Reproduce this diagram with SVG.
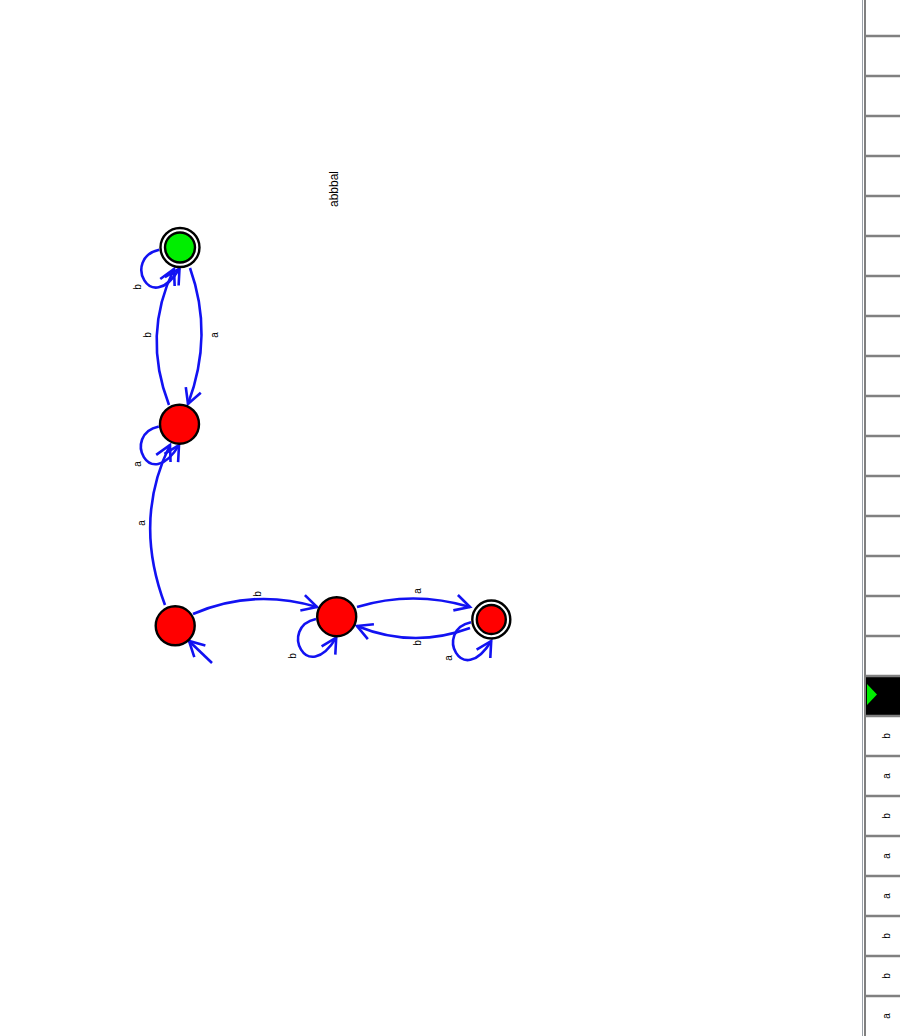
<svg xmlns="http://www.w3.org/2000/svg" width="900" height="1036" viewBox="0 0 900 1036">
<style>
.e{fill:none;stroke:#1212f2;stroke-width:2.6}
.n{fill:#ff0000;stroke:#000;stroke-width:2.4}
.g{fill:#00ee00;stroke:#000;stroke-width:2.4}
.ring{fill:none;stroke:#000;stroke-width:2.4}
.t{font-family:"Liberation Sans",Arial,sans-serif;font-size:10px;fill:#000;text-anchor:middle;dominant-baseline:central}
.tp{stroke:#808080;stroke-width:2.3}
</style>
<defs>
<marker id="arr" markerWidth="20" markerHeight="20" refX="17" refY="10" orient="auto" markerUnits="userSpaceOnUse" viewBox="0 0 20 20">
<path d="M2,2 L17,10 L2,18" fill="none" stroke="#1212f2" stroke-width="2.6"/>
</marker>
</defs>
<rect width="900" height="1036" fill="#fff"/>
<g id="connectors">
<path class="e" d="M190,268 Q214,335 188,404" marker-end="url(#arr)"/>
<path class="e" d="M169,405 Q142,335 174,269" marker-end="url(#arr)"/>
<path class="e" d="M165,605 Q133,520 170,445" marker-end="url(#arr)"/>
<path class="e" d="M193,614 Q253,588 317,607" marker-end="url(#arr)"/>
<path class="e" d="M357,607 Q413,590 470,607" marker-end="url(#arr)"/>
<path class="e" d="M470,628 Q413,649 357,626" marker-end="url(#arr)"/>
<path class="e" d="M212,663 L189,641" marker-end="url(#arr)"/>
<path class="e" d="M159.3,249.8 C122,257.5 150,317.5 179.5,268.5" marker-end="url(#arr)"/>
<path class="e" d="M158.8,426.5 C121.5,434.2 149.5,494.2 179,445.2" marker-end="url(#arr)"/>
<path class="e" d="M316,619 C278.7,626.7 306.7,686.7 336.2,637.7" marker-end="url(#arr)"/>
<path class="e" d="M471,622.3 C433.7,630 461.7,690 491.2,641" marker-end="url(#arr)"/>
<text class="t" transform="translate(214,335) rotate(-90)">a</text>
<text class="t" transform="translate(147,335) rotate(-90)">b</text>
<text class="t" transform="translate(141,523) rotate(-90)">a</text>
<text class="t" transform="translate(257,594) rotate(-90)">b</text>
<text class="t" transform="translate(417,591) rotate(-90)">a</text>
<text class="t" transform="translate(417,643) rotate(-90)">b</text>
<text class="t" transform="translate(137,287) rotate(-90)">b</text>
<text class="t" transform="translate(137,464) rotate(-90)">a</text>
<text class="t" transform="translate(292,656) rotate(-90)">b</text>
<text class="t" transform="translate(448,658) rotate(-90)">a</text>
</g>
<g id="q0">
<circle class="ring" cx="180" cy="247.5" r="19.5"/>
<circle class="g" cx="180" cy="247.5" r="15"/>
</g>
<g id="q1">
<circle class="n" cx="179.5" cy="424.2" r="19.5"/>
</g>
<g id="q2">
<circle class="n" cx="175.2" cy="625.8" r="19.5"/>
</g>
<g id="q3">
<circle class="n" cx="336.7" cy="616.7" r="19.5"/>
</g>
<g id="q4">
<circle class="ring" cx="491.3" cy="619.5" r="19"/>
<circle class="n" cx="491.3" cy="619.5" r="14.5"/>
</g>
<text class="t" style="font-size:12px" transform="translate(334,189) rotate(-90)">abbbal</text>
<g id="tape">
<line x1="862.5" y1="0" x2="862.5" y2="1036" stroke="#9aa0a8" stroke-width="1"/>
<line x1="865" y1="0" x2="865" y2="1036" stroke="#808080" stroke-width="2"/>
<rect x="866" y="677" width="34" height="39" fill="#000"/>
<polygon points="867,684 877,694.5 867,705" fill="#00ee00"/>
<line class="tp" x1="866" y1="36" x2="900" y2="36"/>
<line class="tp" x1="866" y1="76" x2="900" y2="76"/>
<line class="tp" x1="866" y1="116" x2="900" y2="116"/>
<line class="tp" x1="866" y1="156" x2="900" y2="156"/>
<line class="tp" x1="866" y1="196" x2="900" y2="196"/>
<line class="tp" x1="866" y1="236" x2="900" y2="236"/>
<line class="tp" x1="866" y1="276" x2="900" y2="276"/>
<line class="tp" x1="866" y1="316" x2="900" y2="316"/>
<line class="tp" x1="866" y1="356" x2="900" y2="356"/>
<line class="tp" x1="866" y1="396" x2="900" y2="396"/>
<line class="tp" x1="866" y1="436" x2="900" y2="436"/>
<line class="tp" x1="866" y1="476" x2="900" y2="476"/>
<line class="tp" x1="866" y1="516" x2="900" y2="516"/>
<line class="tp" x1="866" y1="556" x2="900" y2="556"/>
<line class="tp" x1="866" y1="596" x2="900" y2="596"/>
<line class="tp" x1="866" y1="636" x2="900" y2="636"/>
<line class="tp" x1="866" y1="676" x2="900" y2="676"/>
<line class="tp" x1="866" y1="716" x2="900" y2="716"/>
<line class="tp" x1="866" y1="756" x2="900" y2="756"/>
<line class="tp" x1="866" y1="796" x2="900" y2="796"/>
<line class="tp" x1="866" y1="836" x2="900" y2="836"/>
<line class="tp" x1="866" y1="876" x2="900" y2="876"/>
<line class="tp" x1="866" y1="916" x2="900" y2="916"/>
<line class="tp" x1="866" y1="956" x2="900" y2="956"/>
<line class="tp" x1="866" y1="996" x2="900" y2="996"/>
<text class="t" transform="translate(886,736) rotate(-90)">b</text>
<text class="t" transform="translate(886,776) rotate(-90)">a</text>
<text class="t" transform="translate(886,816) rotate(-90)">b</text>
<text class="t" transform="translate(886,856) rotate(-90)">a</text>
<text class="t" transform="translate(886,896) rotate(-90)">a</text>
<text class="t" transform="translate(886,936) rotate(-90)">b</text>
<text class="t" transform="translate(886,976) rotate(-90)">b</text>
<text class="t" transform="translate(886,1016) rotate(-90)">a</text>
</g>
</svg>
